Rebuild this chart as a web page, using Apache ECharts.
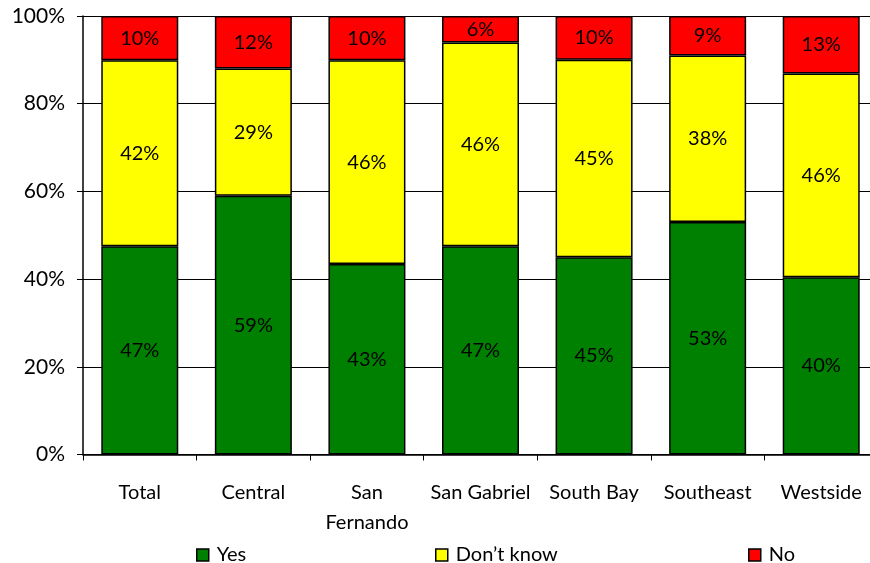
<!DOCTYPE html>
<html>
<head>
<meta charset="utf-8">
<script src="https://cdn.jsdelivr.net/npm/echarts@6/dist/echarts.min.js"></script>
<style>
  html, body { margin: 0; padding: 0; background: #fff; }
  #chart { width: 870px; height: 563px; }
</style>
</head>
<body>
<div id="chart"></div>
<script>
// Survey responses by region (percent of respondents)
const categories = ['Total', 'Central', 'San Fernando', 'San Gabriel', 'South Bay', 'Southeast', 'Westside'];
const yesValues = [47, 59, 43, 47, 45, 53, 40];
const dontKnowValues = [42, 29, 46, 46, 45, 38, 46];
const noValues = [10, 12, 10, 6, 10, 9, 13];
const yTicks = ['0%', '20%', '40%', '60%', '80%', '100%'];

const FONT = 'Lato, "Open Sans", sans-serif';

// Each column is drawn as a 100% stack: share of the row total
const rowTotals = categories.map((_, i) => yesValues[i] + dontKnowValues[i] + noValues[i]);
function toShares(values) {
  return values.map((v, i) => ({ value: v / rowTotals[i] * 100, raw: v }));
}

function barSeries(name, values, color) {
  return {
    name: name,
    type: 'bar',
    stack: 'all',
    barWidth: 77,
    data: toShares(values),
    itemStyle: { color: color, borderColor: '#000', borderWidth: 1.5 },
    label: {
      show: true,
      position: 'inside',
      color: '#000',
      fontFamily: FONT,
      fontSize: 20,
      formatter: p => p.data.raw + '%'
    },
    emphasis: { disabled: true }
  };
}

function legendAt(name, left) {
  return {
    data: [name],
    left: left,
    top: 540,
    itemWidth: 12,
    itemHeight: 12,
    itemGap: 0,
    icon: 'rect',
    itemStyle: { borderColor: '#000', borderWidth: 1.5 },
    textStyle: { fontFamily: FONT, fontSize: 20, color: '#000', padding: [0, 0, 0, 3] },
    selectedMode: false
  };
}

const chart = echarts.init(document.getElementById('chart'), null, { renderer: 'canvas' });
chart.setOption({
  animation: false,
  backgroundColor: '#fff',
  // plot area runs slightly past the right edge of the canvas
  grid: {
    left: 83, top: 16, width: 795, height: 438.5,
    containLabel: false,
    outerBoundsMode: 'none'
  },
  legend: [
    legendAt('Yes', 191),
    legendAt("Don\u2019t know", 430),
    legendAt('No', 743)
  ],
  xAxis: {
    type: 'category',
    data: categories,
    axisLine: { lineStyle: { color: '#000', width: 1.5 } },
    axisTick: { show: true, length: 6, lineStyle: { color: '#000', width: 1 } },
    axisLabel: {
      color: '#000',
      fontFamily: FONT,
      fontSize: 20,
      margin: 23,
      lineHeight: 30,
      interval: 0,
      formatter: v => v === 'San Fernando' ? 'San\nFernando' : v
    }
  },
  yAxis: {
    type: 'value',
    min: 0,
    max: 100,
    interval: 20,
    axisLine: { show: true, lineStyle: { color: '#000', width: 1.5 } },
    axisTick: { show: true, length: 6, lineStyle: { color: '#000', width: 1 } },
    splitLine: { show: true, lineStyle: { color: '#000', width: 1.2 } },
    axisLabel: {
      color: '#000',
      fontFamily: FONT,
      fontSize: 21,
      margin: 18,
      formatter: v => yTicks[Math.round(v / 20)]
    }
  },
  series: [
    barSeries('Yes', yesValues, '#008000'),
    barSeries("Don\u2019t know", dontKnowValues, '#FFFF00'),
    barSeries('No', noValues, '#FF0000')
  ]
});
</script>
</body>
</html>
